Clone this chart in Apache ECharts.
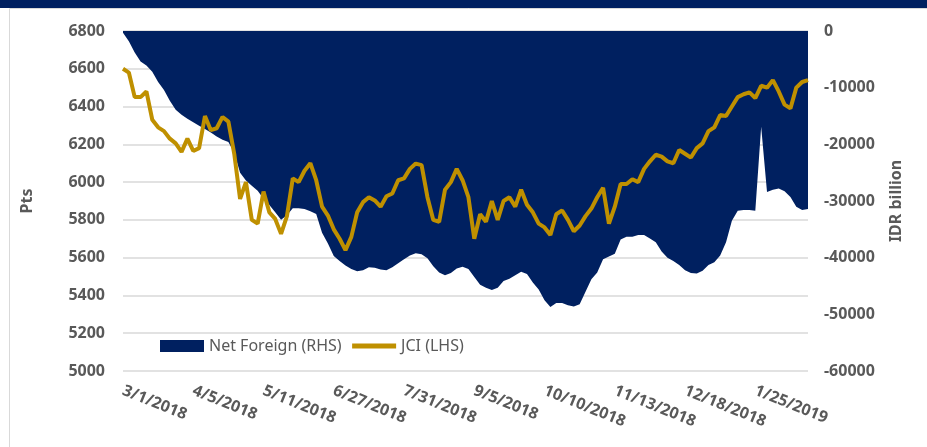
<!DOCTYPE html>
<html>
<head>
<meta charset="utf-8">
<script src="https://cdn.jsdelivr.net/npm/echarts@6/dist/echarts.min.js"></script>
<style>
  html, body { margin: 0; padding: 0; background: #fff; }
  #main { width: 927px; height: 447px; }
</style>
</head>
<body>
<div id="main"></div>
<script>
// x axis labels, one every 12 points (each point ~2 trading days)
var tickLabels = ['3/1/2018', '4/5/2018', '5/11/2018', '6/27/2018', '7/31/2018',
  '9/5/2018', '10/10/2018', '11/13/2018', '12/18/2018', '1/25/2019'];
var pointsPerTick = 12;

// JCI index (LHS, pts)
var jci = [
  6600, 6580, 6450, 6450, 6480, 6330, 6290, 6270, 6230, 6205,
  6160, 6230, 6165, 6180, 6350, 6275, 6285, 6345, 6320, 6150,
  5911, 6000, 5800, 5780, 5950, 5840, 5805, 5726, 5820, 6020,
  6000, 6060, 6100, 6010, 5870, 5823, 5750, 5700, 5640, 5710,
  5840, 5894, 5920, 5903, 5870, 5925, 5940, 6010, 6020, 6070,
  6098, 6090, 5920, 5800, 5790, 5960, 6000, 6070, 6010, 5920,
  5700, 5830, 5790, 5900, 5800, 5900, 5920, 5870, 5960, 5880,
  5840, 5780, 5760, 5720, 5830, 5850, 5800, 5740, 5770, 5820,
  5860, 5920, 5970, 5780, 5870, 5990, 5990, 6015, 6000, 6070,
  6110, 6145, 6135, 6110, 6100, 6170, 6150, 6130, 6180, 6205,
  6270, 6290, 6355, 6350, 6400, 6450, 6465, 6475, 6445, 6510,
  6500, 6540, 6480, 6410, 6390, 6500, 6530, 6540
];

// cumulative net foreign flow (RHS, IDR billion)
var netForeign = [
  -300, -1800, -3800, -5400, -6100, -7200, -9000, -10400, -12300, -13900,
  -14800, -15500, -16100, -16700, -17300, -17900, -18600, -19200, -19600, -21500,
  -25000, -26400, -27300, -28200, -29600, -30700, -32000, -33300, -32500, -31300,
  -31300, -31400, -31800, -32300, -35600, -37500, -39700, -40600, -41400, -42000,
  -42400, -42200, -41700, -41800, -42100, -42200, -41700, -41000, -40300, -39600,
  -39200, -39400, -40100, -41500, -42600, -43100, -42700, -41900, -41600, -42000,
  -43400, -44800, -45300, -45700, -45300, -44100, -43700, -43100, -42500, -42900,
  -44400, -45600, -47500, -48700, -48000, -48000, -48400, -48600, -48200, -46000,
  -43800, -42600, -40300, -39800, -39300, -36800, -36300, -36300, -36000, -36000,
  -36600, -37300, -38900, -40000, -40600, -41300, -42200, -42700, -42800, -42300,
  -41300, -40800, -39600, -37300, -33500, -31700, -31600, -31600, -31700, -16900,
  -28400, -28000, -27800, -28300, -29300, -31000, -31600, -31400
];

var categories = jci.map(function (v, i) {
  return i % pointsPerTick === 0 ? tickLabels[i / pointsPerTick] : 'p' + i;
});

var navy = '#002060';
var gold = '#BF9000';
var grey = '#595959';
var font = 'Noto Sans';

function plain(v) { return String(v); }

var chart = echarts.init(document.getElementById('main'));

var option = {
  animation: false,
  backgroundColor: '#fff',
  graphic: [
    { type: 'rect', shape: { x: 0, y: 0, width: 927, height: 8 }, style: { fill: navy } },
    { type: 'rect', shape: { x: 9.5, y: 8.5, width: 940, height: 460 },
      style: { fill: 'none', stroke: '#d9d9d9', lineWidth: 1 } }
  ],
  grid: { left: 123, right: 119, top: 31, bottom: 76 },
  legend: {
    left: 155,
    top: 333,
    itemWidth: 44,
    itemHeight: 12,
    itemGap: 8,
    textStyle: { fontFamily: font, fontSize: 16, color: grey },
    data: [
      { name: 'Net Foreign (RHS)', icon: 'rect' },
      { name: 'JCI (LHS)', itemStyle: { opacity: 0 }, lineStyle: { width: 5 } }
    ]
  },
  xAxis: {
    type: 'category',
    data: categories,
    boundaryGap: false,
    axisLine: { show: false },
    axisTick: { show: false },
    axisLabel: {
      interval: pointsPerTick - 1,
      rotate: -22,
      margin: 19,
      color: grey,
      fontFamily: font,
      fontSize: 16,
      fontWeight: 'bold'
    }
  },
  yAxis: [
    {
      type: 'value',
      min: 5000,
      max: 6800,
      interval: 200,
      name: 'Pts',
      nameLocation: 'middle',
      nameGap: 88,
      nameTextStyle: { fontFamily: font, fontSize: 16, fontWeight: 'bold', color: grey },
      axisLabel: { margin: 18, color: grey, fontFamily: font, fontSize: 16, fontWeight: 'bold', formatter: plain },
      axisLine: { show: false },
      axisTick: { show: false },
      splitLine: { lineStyle: { color: '#d9d9d9', width: 1.5 } }
    },
    {
      type: 'value',
      min: -60000,
      max: 0,
      interval: 10000,
      name: 'IDR billion',
      nameLocation: 'middle',
      nameRotate: 90,
      nameGap: 80,
      nameTextStyle: { fontFamily: font, fontSize: 16, fontWeight: 'bold', color: grey },
      axisLabel: { margin: 16, color: grey, fontFamily: font, fontSize: 16, fontWeight: 'bold', formatter: plain },
      axisLine: { show: false },
      axisTick: { show: false },
      splitLine: { show: false }
    }
  ],
  series: [
    {
      name: 'Net Foreign (RHS)',
      type: 'line',
      yAxisIndex: 1,
      data: netForeign,
      symbol: 'none',
      color: navy,
      lineStyle: { width: 0 },
      areaStyle: { color: navy, opacity: 1 },
      z: 2
    },
    {
      name: 'JCI (LHS)',
      type: 'line',
      yAxisIndex: 0,
      data: jci,
      symbol: 'none',
      color: gold,
      lineStyle: { color: gold, width: 4 },
      z: 3
    }
  ]
};

chart.setOption(option);
</script>
</body>
</html>
